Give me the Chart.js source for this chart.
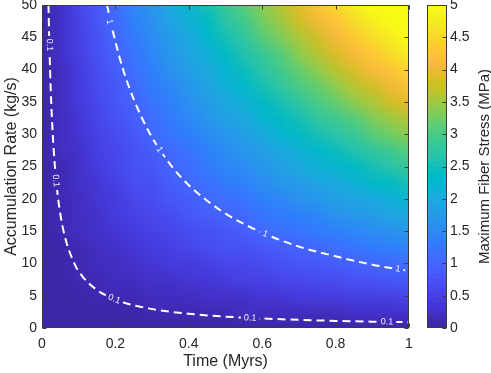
<!DOCTYPE html>
<html>
<head>
<meta charset="utf-8">
<script src="https://cdn.jsdelivr.net/npm/chart.js@4.4.1/dist/chart.umd.min.js"></script>
<style>
  html, body { margin: 0; padding: 0; background: #fff; }
  #wrap { position: relative; width: 491px; height: 373px; }
  #main { position: absolute; left: 0; top: 0; }
  #cbar { position: absolute; left: 420px; top: 0; }
</style>
</head>
<body>
<div id="wrap">
  <canvas id="main" width="420" height="373"></canvas>
  <canvas id="cbar" width="71" height="373"></canvas>
</div>
<script>
// grid of the heat map
const times = [0, 0.05, 0.1, 0.15, 0.2, 0.25, 0.3, 0.35, 0.4, 0.45, 0.5, 0.55, 0.6, 0.65, 0.7, 0.75, 0.8, 0.85, 0.9, 0.95, 1];
const rates = [0, 2.5, 5, 7.5, 10, 12.5, 15, 17.5, 20, 22.5, 25, 27.5, 30, 32.5, 35, 37.5, 40, 42.5, 45, 47.5, 50];
// stress[rateIndex][timeIndex] in MPa
const stress = [
    [0, 0, 0, 0, 0, 0, 0, 0, 0, 0, 0, 0, 0, 0, 0, 0, 0, 0, 0, 0, 0],
    [0, 0.01, 0.03, 0.04, 0.06, 0.07, 0.08, 0.10, 0.11, 0.13, 0.14, 0.16, 0.17, 0.18, 0.20, 0.21, 0.23, 0.24, 0.25, 0.27, 0.28],
    [0, 0.03, 0.06, 0.08, 0.11, 0.14, 0.17, 0.20, 0.23, 0.25, 0.28, 0.31, 0.34, 0.37, 0.40, 0.42, 0.45, 0.48, 0.51, 0.54, 0.57],
    [0, 0.04, 0.08, 0.13, 0.17, 0.21, 0.25, 0.30, 0.34, 0.38, 0.42, 0.47, 0.51, 0.55, 0.59, 0.64, 0.68, 0.72, 0.76, 0.81, 0.85],
    [0, 0.06, 0.11, 0.17, 0.23, 0.28, 0.34, 0.40, 0.45, 0.51, 0.57, 0.62, 0.68, 0.73, 0.79, 0.85, 0.90, 0.96, 1.02, 1.07, 1.13],
    [0, 0.07, 0.14, 0.21, 0.28, 0.35, 0.42, 0.49, 0.57, 0.64, 0.71, 0.78, 0.85, 0.92, 0.99, 1.06, 1.13, 1.20, 1.27, 1.34, 1.41],
    [0, 0.08, 0.17, 0.25, 0.34, 0.42, 0.51, 0.59, 0.68, 0.76, 0.85, 0.93, 1.02, 1.10, 1.19, 1.27, 1.36, 1.44, 1.53, 1.61, 1.70],
    [0, 0.10, 0.20, 0.30, 0.40, 0.49, 0.59, 0.69, 0.79, 0.89, 0.99, 1.09, 1.19, 1.29, 1.38, 1.48, 1.58, 1.68, 1.78, 1.88, 1.98],
    [0, 0.11, 0.23, 0.34, 0.45, 0.57, 0.68, 0.79, 0.90, 1.02, 1.13, 1.24, 1.36, 1.47, 1.58, 1.70, 1.81, 1.92, 2.03, 2.15, 2.26],
    [0, 0.13, 0.25, 0.38, 0.51, 0.64, 0.76, 0.89, 1.02, 1.14, 1.27, 1.40, 1.53, 1.65, 1.78, 1.91, 2.03, 2.16, 2.29, 2.42, 2.54],
    [0, 0.14, 0.28, 0.42, 0.57, 0.71, 0.85, 0.99, 1.13, 1.27, 1.41, 1.55, 1.70, 1.84, 1.98, 2.12, 2.26, 2.40, 2.54, 2.68, 2.83],
    [0, 0.16, 0.31, 0.47, 0.62, 0.78, 0.93, 1.09, 1.24, 1.40, 1.55, 1.71, 1.86, 2.02, 2.18, 2.33, 2.49, 2.64, 2.80, 2.95, 3.11],
    [0, 0.17, 0.34, 0.51, 0.68, 0.85, 1.02, 1.19, 1.36, 1.53, 1.70, 1.86, 2.03, 2.20, 2.37, 2.54, 2.71, 2.88, 3.05, 3.22, 3.39],
    [0, 0.18, 0.37, 0.55, 0.73, 0.92, 1.10, 1.29, 1.47, 1.65, 1.84, 2.02, 2.20, 2.39, 2.57, 2.75, 2.94, 3.12, 3.31, 3.49, 3.67],
    [0, 0.20, 0.40, 0.59, 0.79, 0.99, 1.19, 1.38, 1.58, 1.78, 1.98, 2.18, 2.37, 2.57, 2.77, 2.97, 3.16, 3.36, 3.56, 3.76, 3.96],
    [0, 0.21, 0.42, 0.64, 0.85, 1.06, 1.27, 1.48, 1.70, 1.91, 2.12, 2.33, 2.54, 2.75, 2.97, 3.18, 3.39, 3.60, 3.81, 4.03, 4.24],
    [0, 0.23, 0.45, 0.68, 0.90, 1.13, 1.36, 1.58, 1.81, 2.03, 2.26, 2.49, 2.71, 2.94, 3.16, 3.39, 3.62, 3.84, 4.07, 4.29, 4.52],
    [0, 0.24, 0.48, 0.72, 0.96, 1.20, 1.44, 1.68, 1.92, 2.16, 2.40, 2.64, 2.88, 3.12, 3.36, 3.60, 3.84, 4.08, 4.32, 4.56, 4.80],
    [0, 0.25, 0.51, 0.76, 1.02, 1.27, 1.53, 1.78, 2.03, 2.29, 2.54, 2.80, 3.05, 3.31, 3.56, 3.81, 4.07, 4.32, 4.58, 4.83, 5.09],
    [0, 0.27, 0.54, 0.81, 1.07, 1.34, 1.61, 1.88, 2.15, 2.42, 2.68, 2.95, 3.22, 3.49, 3.76, 4.03, 4.29, 4.56, 4.83, 5.10, 5.37],
    [0, 0.28, 0.57, 0.85, 1.13, 1.41, 1.70, 1.98, 2.26, 2.54, 2.83, 3.11, 3.39, 3.67, 3.96, 4.24, 4.52, 4.80, 5.09, 5.37, 5.65]
];

// contour lines
const contour01Time = [0.0176, 0.0196, 0.022, 0.0251, 0.0293, 0.0352, 0.044, 0.0587, 0.088, 0.11, 0.147, 0.176, 0.22, 0.293, 0.4, 0.5, 0.6, 0.7, 0.8, 0.9, 1.0];
const contour01Rate = [50, 45, 40, 35, 30, 25, 20, 15, 10, 8, 6, 5, 4, 3, 2.2, 1.76, 1.47, 1.26, 1.1, 0.98, 0.9];
const contour1Time = [0.177, 0.197, 0.221, 0.253, 0.295, 0.354, 0.4, 0.45, 0.5, 0.6, 0.7, 0.8, 0.9, 1.0];
const contour1Rate = [50, 45, 40, 35, 30, 25, 22.1, 19.7, 17.7, 14.75, 12.6, 11.1, 9.8, 8.85];

// contour labels
const label01Time = [0.0201, 0.038, 0.197, 0.567, 0.94];
const label01Rate = [43.8, 22.8, 4.47, 1.55, 0.94];
const label1Time = [0.184, 0.32, 0.608, 0.97];
const label1Rate = [47.4, 27.6, 14.55, 9.12];

const xTicks = [0, 0.2, 0.4, 0.6, 0.8, 1];
const yTicks = [0, 5, 10, 15, 20, 25, 30, 35, 40, 45, 50];
const cbarMax = 5;

// MATLAB parula, 64 entries
const parula = [
    [0.2422,0.1504,0.6603],[0.2504,0.1650,0.7076],[0.2578,0.1818,0.7511],[0.2647,0.1978,0.7952],
    [0.2706,0.2147,0.8364],[0.2751,0.2342,0.8710],[0.2783,0.2559,0.8991],[0.2803,0.2782,0.9221],
    [0.2813,0.3006,0.9414],[0.2810,0.3228,0.9579],[0.2795,0.3447,0.9717],[0.2760,0.3667,0.9829],
    [0.2699,0.3892,0.9906],[0.2602,0.4123,0.9952],[0.2440,0.4358,0.9988],[0.2206,0.4603,0.9973],
    [0.1963,0.4847,0.9892],[0.1834,0.5074,0.9798],[0.1786,0.5289,0.9682],[0.1764,0.5499,0.9520],
    [0.1687,0.5703,0.9359],[0.1540,0.5902,0.9218],[0.1460,0.6091,0.9079],[0.1380,0.6276,0.8973],
    [0.1248,0.6459,0.8883],[0.1113,0.6635,0.8763],[0.0952,0.6798,0.8598],[0.0689,0.6948,0.8394],
    [0.0297,0.7082,0.8163],[0.0036,0.7203,0.7917],[0.0067,0.7312,0.7660],[0.0433,0.7411,0.7394],
    [0.0964,0.7500,0.7120],[0.1408,0.7584,0.6842],[0.1717,0.7670,0.6554],[0.1938,0.7758,0.6251],
    [0.2161,0.7843,0.5923],[0.2470,0.7918,0.5567],[0.2906,0.7973,0.5188],[0.3406,0.8008,0.4789],
    [0.3909,0.8029,0.4354],[0.4456,0.8024,0.3909],[0.5044,0.7993,0.3480],[0.5616,0.7942,0.3045],
    [0.6174,0.7876,0.2612],[0.6720,0.7793,0.2227],[0.7242,0.7698,0.1910],[0.7738,0.7598,0.1646],
    [0.8203,0.7498,0.1535],[0.8634,0.7406,0.1596],[0.9035,0.7330,0.1774],[0.9393,0.7288,0.2100],
    [0.9728,0.7298,0.2394],[0.9956,0.7434,0.2371],[0.9970,0.7659,0.2199],[0.9952,0.7893,0.2028],
    [0.9892,0.8136,0.1885],[0.9786,0.8386,0.1766],[0.9676,0.8639,0.1643],[0.9610,0.8890,0.1537],
    [0.9597,0.9135,0.1423],[0.9628,0.9373,0.1265],[0.9691,0.9606,0.1064],[0.9769,0.9839,0.0805]
];

Chart.defaults.font.family = '"Liberation Sans", Arial, sans-serif';
Chart.defaults.color = '#262626';

const axisColor = '#3c3c3c';

function rgb(c) {
    return 'rgb(' + c.map(v => Math.round(v * 255)).join(',') + ')';
}

function colorFor(v) {
    let k = Math.floor(v / cbarMax * parula.length);
    k = Math.max(0, Math.min(parula.length - 1, k));
    return parula[k];
}

function labelAngle(chart, lt, lr, t) {
    const { x, y } = chart.scales;
    let i = 1;
    while (i < lt.length - 1 && lt[i] < t) i++;
    const dx = x.getPixelForValue(lt[i]) - x.getPixelForValue(lt[i - 1]);
    const dy = y.getPixelForValue(lr[i]) - y.getPixelForValue(lr[i - 1]);
    let a = Math.atan2(dy, dx);
    if (a > Math.PI / 2) a -= Math.PI;
    if (a < -Math.PI / 2) a += Math.PI;
    return a;
}

// all contour labels with the angle of the line they sit on
function contourLabels(chart) {
    const out = [];
    label01Time.forEach((t, i) => out.push({ t, r: label01Rate[i], text: '0.1',
        a: labelAngle(chart, contour01Time, contour01Rate, t) }));
    label1Time.forEach((t, i) => out.push({ t, r: label1Rate[i], text: '1',
        a: labelAngle(chart, contour1Time, contour1Rate, t) }));
    return out;
}

const labelFont = '9px "Liberation Sans", Arial, sans-serif';

const heatmapPlugin = {
    id: 'heatmap',
    beforeDatasetsDraw(chart) {
        const { ctx, chartArea, scales: { x, y } } = chart;
        // one pixel per grid node, stretched over the axes
        const off = document.createElement('canvas');
        off.width = times.length;
        off.height = rates.length;
        const octx = off.getContext('2d');
        const img = octx.createImageData(off.width, off.height);
        rates.forEach((r, j) => {
            const row = rates.length - 1 - j;
            times.forEach((t, i) => {
                const c = colorFor(stress[j][i]);
                const k = (row * off.width + i) * 4;
                img.data[k] = Math.round(c[0] * 255);
                img.data[k + 1] = Math.round(c[1] * 255);
                img.data[k + 2] = Math.round(c[2] * 255);
                img.data[k + 3] = 255;
            });
        });
        octx.putImageData(img, 0, 0);
        const dt = times[1] - times[0];
        const dr = rates[1] - rates[0];
        const left = x.getPixelForValue(times[0] - dt / 2);
        const right = x.getPixelForValue(times[times.length - 1] + dt / 2);
        const top = y.getPixelForValue(rates[rates.length - 1] + dr / 2);
        const bottom = y.getPixelForValue(rates[0] - dr / 2);
        ctx.save();
        ctx.beginPath();
        ctx.rect(chartArea.left, chartArea.top, chartArea.width, chartArea.height);
        ctx.clip();
        ctx.imageSmoothingEnabled = true;
        ctx.drawImage(off, left, top, right - left, bottom - top);
        ctx.restore();
    },
    beforeDatasetDraw(chart) {
        // leave gaps in the dashed lines where the labels go
        const { ctx, chartArea, scales: { x, y } } = chart;
        ctx.save();
        ctx.font = labelFont;
        ctx.beginPath();
        ctx.rect(chartArea.left - 5, chartArea.top - 5, chartArea.width + 10, chartArea.height + 10);
        contourLabels(chart).forEach(l => {
            const px = x.getPixelForValue(l.t), py = y.getPixelForValue(l.r);
            const hw = ctx.measureText(l.text).width / 2 + 3, hh = 5;
            const c = Math.cos(l.a), s = Math.sin(l.a);
            const pts = [[-hw, -hh], [hw, -hh], [hw, hh], [-hw, hh]].map(p =>
                [px + p[0] * c - p[1] * s, py + p[0] * s + p[1] * c]);
            ctx.moveTo(pts[0][0], pts[0][1]);
            for (let k = 1; k < 4; k++) ctx.lineTo(pts[k][0], pts[k][1]);
            ctx.closePath();
        });
        ctx.clip('evenodd');
    },
    afterDatasetDraw(chart) {
        chart.ctx.restore();
    },
    afterDatasetsDraw(chart) {
        const { ctx, chartArea, scales: { x, y } } = chart;
        // contour labels
        ctx.save();
        ctx.font = labelFont;
        ctx.fillStyle = 'rgba(255,255,255,0.92)';
        ctx.textAlign = 'center';
        ctx.textBaseline = 'middle';
        contourLabels(chart).forEach(l => {
            ctx.save();
            ctx.translate(x.getPixelForValue(l.t), y.getPixelForValue(l.r));
            ctx.rotate(l.a);
            ctx.fillText(l.text, 0, 0);
            ctx.restore();
        });
        ctx.restore();

        // box and inward ticks
        const L = Math.round(chartArea.left) + 0.5, R = Math.round(chartArea.right) - 0.5;
        const T = Math.round(chartArea.top) + 0.5, B = Math.round(chartArea.bottom) - 0.5;
        ctx.save();
        ctx.strokeStyle = axisColor;
        ctx.lineWidth = 1;
        ctx.strokeRect(L, T, R - L, B - T);
        ctx.beginPath();
        xTicks.forEach(v => {
            const px = Math.round(x.getPixelForValue(v)) + 0.5;
            ctx.moveTo(px, B); ctx.lineTo(px, B - 4);
            ctx.moveTo(px, T); ctx.lineTo(px, T + 4);
        });
        yTicks.forEach(v => {
            const py = Math.round(y.getPixelForValue(v)) + 0.5;
            ctx.moveTo(L, py); ctx.lineTo(L + 4, py);
            ctx.moveTo(R, py); ctx.lineTo(R - 4, py);
        });
        ctx.stroke();
        ctx.restore();
    }
};

const contourStyle = {
    showLine: true,
    borderColor: '#ffffff',
    borderWidth: 2,
    borderDash: [8, 5],
    pointRadius: 0,
    cubicInterpolationMode: 'monotone',
    fill: false
};

new Chart(document.getElementById('main'), {
    type: 'scatter',
    data: {
        datasets: [
            Object.assign({ label: '0.1', data: contour01Time.map((t, i) => ({ x: t, y: contour01Rate[i] })) }, contourStyle),
            Object.assign({ label: '1', data: contour1Time.map((t, i) => ({ x: t, y: contour1Rate[i] })) }, contourStyle)
        ]
    },
    options: {
        responsive: false,
        animation: false,
        events: [],
        layout: { padding: { top: 5, right: 11, left: 0, bottom: 0 } },
        plugins: { legend: { display: false }, tooltip: { enabled: false } },
        scales: {
            x: {
                type: 'linear', min: 0, max: 1,
                afterFit(s) { s.height = 45; s.paddingLeft = 0; s.paddingRight = 0; },
                afterBuildTicks(s) { s.ticks = xTicks.map(v => ({ value: v })); },
                grid: { display: false, drawTicks: false },
                border: { display: false },
                ticks: { font: { size: 14 }, padding: 8, maxRotation: 0, callback: v => String(v) },
                title: { display: true, text: 'Time (Myrs)', font: { size: 16 }, padding: { top: 0, bottom: 2 } }
            },
            y: {
                type: 'linear', min: 0, max: 50,
                afterFit(s) { s.width = 42; s.paddingTop = 0; s.paddingBottom = 0; },
                afterBuildTicks(s) { s.ticks = yTicks.map(v => ({ value: v })); },
                grid: { display: false, drawTicks: false },
                border: { display: false },
                ticks: { font: { size: 14 }, padding: 5, callback: v => String(v) },
                title: { display: true, text: 'Accumulation Rate (kg/s)', font: { size: 16 }, padding: { top: 2, bottom: 0 } }
            }
        }
    },
    plugins: [heatmapPlugin]
});

// colour bar
const cbarTicks = [0, 0.5, 1, 1.5, 2, 2.5, 3, 3.5, 4, 4.5, 5];
const cbarTitle = 'Maximum Fiber Stress (MPa)';

const cbarPlugin = {
    id: 'cbarFrame',
    afterDatasetsDraw(chart) {
        const { ctx, chartArea, scales: { y } } = chart;
        const L = Math.round(chartArea.left) + 0.5, R = Math.round(chartArea.right) - 0.5;
        const T = Math.round(chartArea.top) + 0.5, B = Math.round(chartArea.bottom) - 0.5;
        ctx.save();
        ctx.strokeStyle = axisColor;
        ctx.lineWidth = 1;
        ctx.strokeRect(L, T, R - L, B - T);
        ctx.beginPath();
        cbarTicks.forEach(v => {
            const py = Math.round(y.getPixelForValue(v)) + 0.5;
            ctx.moveTo(R, py); ctx.lineTo(R - 4, py);
        });
        ctx.stroke();
        ctx.fillStyle = '#262626';
        ctx.font = '15px "Liberation Sans", Arial, sans-serif';
        ctx.textAlign = 'center';
        ctx.textBaseline = 'middle';
        ctx.translate(65, (chartArea.top + chartArea.bottom) / 2);
        ctx.rotate(-Math.PI / 2);
        ctx.fillText(cbarTitle, 0, 0);
        ctx.restore();
    }
};

new Chart(document.getElementById('cbar'), {
    type: 'bar',
    data: {
        labels: [''],
        datasets: parula.map(c => ({
            data: [cbarMax / parula.length],
            backgroundColor: rgb(c),
            borderWidth: 0,
            barPercentage: 1,
            categoryPercentage: 1
        }))
    },
    options: {
        responsive: false,
        animation: false,
        events: [],
        layout: { padding: { top: 5, left: 7, right: 0, bottom: 45 } },
        plugins: { legend: { display: false }, tooltip: { enabled: false } },
        scales: {
            x: { display: false, stacked: true },
            y: {
                position: 'right', stacked: true, min: 0, max: cbarMax,
                afterFit(s) { s.width = 44; s.paddingTop = 0; s.paddingBottom = 0; },
                afterBuildTicks(s) { s.ticks = cbarTicks.map(v => ({ value: v })); },
                grid: { display: false, drawTicks: false },
                border: { display: false },
                ticks: { font: { size: 14 }, padding: 3, callback: v => String(v) }
            }
        }
    },
    plugins: [cbarPlugin]
});
</script>
</body>
</html>
